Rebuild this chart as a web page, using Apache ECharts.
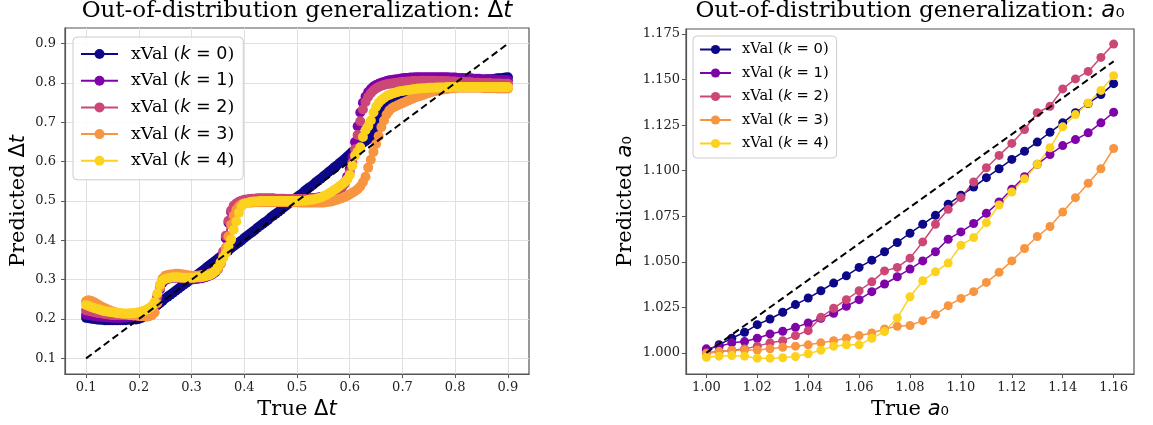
<!DOCTYPE html>
<html><head><meta charset="utf-8">
<script src="https://cdn.jsdelivr.net/npm/echarts@6/dist/echarts.min.js"></script>
<style>html,body{margin:0;padding:0;background:#fff}#c{width:1153px;height:425px}</style>
</head><body><div id="c"></div>
<script>
// ---------- Left panel: Δt ----------
const dtTrue = [
0.100,0.105,0.110,0.115,0.120,0.125,0.130,0.135,0.140,0.145,
0.150,0.155,0.160,0.165,0.170,0.175,0.180,0.185,0.190,0.195,
0.200,0.205,0.210,0.215,0.220,0.225,0.230,0.235,0.240,0.245,
0.250,0.255,0.260,0.265,0.270,0.275,0.280,0.285,0.290,0.295,
0.300,0.305,0.310,0.315,0.320,0.325,0.330,0.335,0.340,0.345,
0.350,0.355,0.360,0.365,0.370,0.375,0.380,0.385,0.390,0.395,
0.400,0.405,0.410,0.415,0.420,0.425,0.430,0.435,0.440,0.445,
0.450,0.455,0.460,0.465,0.470,0.475,0.480,0.485,0.490,0.495,
0.500,0.505,0.510,0.515,0.520,0.525,0.530,0.535,0.540,0.545,
0.550,0.555,0.560,0.565,0.570,0.575,0.580,0.585,0.590,0.595,
0.600,0.605,0.610,0.615,0.620,0.625,0.630,0.635,0.640,0.645,
0.650,0.655,0.660,0.665,0.670,0.675,0.680,0.685,0.690,0.695,
0.700,0.705,0.710,0.715,0.720,0.725,0.730,0.735,0.740,0.745,
0.750,0.755,0.760,0.765,0.770,0.775,0.780,0.785,0.790,0.795,
0.800,0.805,0.810,0.815,0.820,0.825,0.830,0.835,0.840,0.845,
0.850,0.855,0.860,0.865,0.870,0.875,0.880,0.885,0.890,0.895,
0.900];
const dtK0 = [
.203,.202,.201,.200,.199,.198,.198,.197,.197,.197,
.197,.197,.197,.197,.197,.197,.198,.198,.199,.199,
.200,.203,.207,.212,.218,.224,.229,.235,.240,.246,
.252,.257,.262,.267,.272,.277,.282,.287,.292,.297,
.302,.307,.312,.317,.322,.327,.333,.338,.343,.348,
.354,.359,.364,.369,.374,.380,.385,.390,.395,.400,
.406,.411,.416,.421,.426,.432,.437,.442,.447,.452,
.458,.463,.468,.473,.478,.484,.489,.494,.499,.505,
.510,.515,.520,.526,.531,.536,.541,.547,.552,.557,
.563,.568,.574,.579,.585,.590,.596,.601,.607,.613,
.619,.625,.631,.637,.643,.648,.652,.657,.662,.675,
.695,.712,.726,.737,.745,.750,.754,.757,.760,.762,
.764,.766,.768,.770,.772,.774,.776,.778,.779,.781,
.783,.784,.786,.787,.789,.790,.791,.793,.794,.796,
.797,.798,.799,.800,.801,.802,.803,.804,.805,.806,
.807,.808,.809,.810,.810,.811,.812,.812,.813,.814,
.815];
const dtK1 = [
.211,.210,.209,.208,.207,.206,.205,.205,.204,.204,
.203,.203,.203,.203,.204,.204,.205,.206,.207,.208,
.210,.212,.215,.218,.222,.227,.235,.252,.275,.292,
.299,.302,.304,.305,.305,.305,.304,.303,.302,.301,
.301,.301,.302,.303,.304,.306,.308,.311,.314,.319,
.327,.340,.365,.405,.445,.472,.485,.492,.496,.499,
.500,.501,.502,.503,.503,.504,.504,.505,.505,.505,
.505,.505,.505,.505,.505,.505,.505,.505,.505,.505,
.505,.505,.505,.506,.506,.507,.507,.508,.509,.510,
.511,.513,.515,.518,.521,.525,.530,.537,.547,.562,
.582,.612,.650,.690,.725,.750,.766,.777,.785,.791,
.795,.798,.801,.803,.805,.807,.808,.809,.810,.811,
.812,.813,.813,.814,.814,.815,.815,.815,.815,.815,
.815,.815,.815,.815,.815,.815,.815,.815,.814,.814,
.814,.813,.813,.813,.812,.812,.812,.811,.811,.811,
.810,.810,.810,.809,.809,.809,.808,.808,.808,.808,
.807];
const dtK2 = [
.222,.221,.219,.218,.216,.215,.214,.213,.212,.211,
.210,.210,.210,.210,.210,.210,.211,.211,.212,.213,
.215,.217,.220,.223,.227,.232,.240,.258,.280,.296,
.303,.306,.308,.309,.310,.310,.309,.308,.307,.306,
.305,.305,.306,.307,.308,.310,.312,.315,.318,.323,
.332,.345,.372,.412,.450,.476,.488,.494,.498,.501,
.503,.504,.505,.506,.506,.507,.507,.507,.507,.507,
.507,.507,.506,.506,.506,.506,.505,.505,.505,.505,
.505,.505,.505,.505,.505,.506,.506,.507,.507,.508,
.509,.510,.512,.515,.518,.522,.527,.533,.543,.556,
.573,.598,.632,.668,.703,.733,.752,.765,.774,.781,
.786,.790,.793,.795,.797,.798,.799,.800,.801,.802,
.803,.803,.804,.804,.805,.805,.805,.806,.806,.806,
.806,.806,.806,.805,.805,.805,.805,.805,.804,.804,
.804,.803,.803,.803,.802,.802,.802,.801,.801,.801,
.800,.800,.800,.800,.799,.799,.799,.799,.798,.798,
.798];
const dtK3 = [
.245,.248,.246,.243,.239,.235,.231,.228,.225,.222,
.219,.217,.215,.214,.213,.212,.211,.210,.209,.209,
.208,.207,.207,.206,.207,.210,.217,.240,.280,.303,
.310,.312,.313,.314,.315,.315,.314,.313,.312,.311,
.310,.310,.310,.311,.312,.313,.314,.316,.318,.322,
.328,.340,.358,.382,.410,.440,.463,.478,.487,.492,
.494,.495,.496,.496,.497,.497,.497,.497,.497,.497,
.497,.497,.497,.497,.497,.497,.497,.497,.497,.497,
.497,.496,.496,.496,.496,.496,.496,.496,.496,.496,
.496,.497,.498,.499,.501,.503,.505,.507,.510,.513,
.517,.521,.525,.530,.537,.548,.562,.585,.605,.625,
.645,.665,.688,.705,.720,.730,.736,.740,.743,.746,
.749,.752,.755,.758,.761,.764,.766,.768,.770,.773,
.775,.777,.779,.780,.782,.783,.784,.785,.786,.787,
.787,.788,.788,.788,.788,.788,.788,.788,.788,.788,
.788,.787,.787,.787,.787,.787,.786,.786,.786,.786,
.786];
const dtK4 = [
.236,.233,.230,.228,.226,.224,.222,.220,.219,.218,
.217,.216,.215,.215,.214,.214,.214,.215,.215,.216,
.217,.219,.221,.224,.228,.233,.243,.265,.288,.298,
.302,.304,.305,.306,.306,.306,.305,.305,.305,.305,
.305,.305,.306,.306,.307,.308,.310,.312,.316,.322,
.333,.343,.355,.368,.385,.402,.427,.448,.470,.487,
.493,.495,.497,.498,.499,.499,.500,.500,.500,.500,
.500,.500,.500,.500,.500,.500,.500,.500,.500,.500,
.500,.500,.501,.501,.502,.503,.504,.505,.507,.509,
.512,.515,.519,.523,.528,.532,.537,.542,.547,.555,
.566,.590,.615,.625,.637,.663,.680,.690,.705,.725,
.740,.750,.757,.762,.767,.770,.773,.775,.777,.779,
.780,.781,.782,.783,.784,.785,.786,.786,.787,.787,
.788,.788,.788,.789,.789,.789,.789,.790,.790,.790,
.790,.790,.790,.790,.790,.790,.790,.790,.790,.790,
.790,.790,.790,.790,.790,.790,.790,.790,.790,.790,
.790];
const dtIdentity = [0.1, 0.9];
const dtTicks = [0.1,0.2,0.3,0.4,0.5,0.6,0.7,0.8,0.9];

// ---------- Right panel: a0 ----------
const a0True = [
1.000,1.005,1.010,1.015,1.020,1.025,1.030,1.035,1.040,1.045,
1.050,1.055,1.060,1.065,1.070,1.075,1.080,1.085,1.090,1.095,
1.100,1.105,1.110,1.115,1.120,1.125,1.130,1.135,1.140,1.145,
1.150,1.155,1.160];
const a0K0 = [
1.0013,1.0045,1.0080,1.0113,1.0155,1.0186,1.0223,1.0265,1.0301,1.0341,
1.0383,1.0423,1.0469,1.0509,1.0555,1.0606,1.0657,1.0706,1.0755,1.0816,
1.0865,1.0910,1.0962,1.1011,1.1062,1.1107,1.1157,1.1211,1.1263,1.1318,
1.1369,1.1418,1.1478];
const a0K1 = [
1.0022,1.0035,1.0055,1.0062,1.0080,1.0104,1.0119,1.0140,1.0164,1.0190,
1.0217,1.0256,1.0292,1.0336,1.0378,1.0418,1.0460,1.0505,1.0555,1.0624,
1.0664,1.0710,1.0766,1.0828,1.0898,1.0967,1.1035,1.1089,1.1138,1.1171,
1.1208,1.1263,1.1321];
const a0K2 = [
1.0000,1.0007,1.0013,1.0022,1.0037,1.0055,1.0067,1.0095,1.0122,1.0195,
1.0245,1.0292,1.0341,1.0390,1.0450,1.0469,1.0520,1.0609,1.0706,1.0788,
1.0852,1.0938,1.1016,1.1084,1.1150,1.1226,1.1318,1.1354,1.1449,1.1504,
1.1545,1.1622,1.1695];
const a0K3 = [
0.9995,1.0007,1.0013,1.0016,1.0016,1.0022,1.0031,1.0037,1.0044,1.0055,
1.0067,1.0080,1.0095,1.0109,1.0131,1.0146,1.0150,1.0177,1.0210,1.0259,
1.0299,1.0336,1.0387,1.0442,1.0505,1.0573,1.0639,1.0694,1.0773,1.0852,
1.0931,1.1011,1.1122];
const a0K4 = [
0.9976,0.9982,0.9985,0.9982,0.9971,0.9971,0.9973,0.9980,0.9995,1.0015,
1.0037,1.0044,1.0044,1.0080,1.0117,1.0192,1.0308,1.0396,1.0445,1.0493,
1.0591,1.0633,1.0715,1.0812,1.0883,1.0956,1.1035,1.1126,1.1241,1.1308,
1.1372,1.1441,1.1522];
const a0Identity = [1.0, 1.16];
const a0XTicks = [1.00,1.02,1.04,1.06,1.08,1.10,1.12,1.14,1.16];
const a0YTicks = [1.000,1.025,1.050,1.075,1.100,1.125,1.150,1.175];

const kLabels = ['0','1','2','3','4'];
const colors = ['#0d0887','#7e03a8','#cc4778','#f89540','#fdd21f'];

const SERIF = 'DejaVu Serif', SANS = 'DejaVu Sans';
const spine = '#555555';

const dtSeriesY = [dtK0, dtK1, dtK2, dtK3, dtK4];
const a0SeriesY = [a0K0, a0K1, a0K2, a0K3, a0K4];
const leftNames = kLabels.map(k => 'dt xVal (k = ' + k + ')');
const rightNames = kLabels.map(k => 'a0 xVal (k = ' + k + ')');

function legendFmt(name) {
  const k = name.slice(-2, -1);
  return 'xVal ({m|k}{s| = ' + k + '})';
}

function makeAxisLabel(ticks, digits, margin) {
  return {customValues: ticks, formatter: v => v.toFixed(digits),
    fontFamily: SERIF, fontSize: 13, color: '#222', margin: margin};
}

const series = [];
dtSeriesY.forEach((ys, i) => {
  series.push({
    name: leftNames[i], type: 'line', xAxisIndex: 0, yAxisIndex: 0,
    data: dtTrue.map((x, j) => [x, ys[j]]),
    symbol: 'circle', symbolSize: 10, showAllSymbol: true,
    lineStyle: {width: 1.5, color: colors[i]}, itemStyle: {color: colors[i]},
    emphasis: {disabled: true}, animation: false, z: 2
  });
});
series.push({
  type: 'line', xAxisIndex: 0, yAxisIndex: 0,
  data: dtIdentity.map(v => [v, v]), symbol: 'none',
  lineStyle: {color: '#000', width: 2, type: [7, 4]}, z: 5, animation: false, silent: true
});
a0SeriesY.forEach((ys, i) => {
  series.push({
    name: rightNames[i], type: 'line', xAxisIndex: 1, yAxisIndex: 1,
    data: a0True.map((x, j) => [x, ys[j]]),
    symbol: 'circle', symbolSize: 9, showAllSymbol: true,
    lineStyle: {width: 1.5, color: colors[i]}, itemStyle: {color: colors[i]},
    emphasis: {disabled: true}, animation: false, z: 2
  });
});
series.push({
  type: 'line', xAxisIndex: 1, yAxisIndex: 1,
  data: a0Identity.map(v => [v, v]), symbol: 'none',
  lineStyle: {color: '#000', width: 2, type: [7, 4]}, z: 5, animation: false, silent: true
});

const richMath = (fs) => ({
  m: {fontFamily: SANS, fontStyle: 'italic', fontSize: fs, color: '#000'},
  s: {fontFamily: SANS, fontSize: fs, color: '#000'},
  d: {fontFamily: SANS, fontSize: fs, color: '#000'}
});

function legendCfg(names, left, top, fs, lh, gap, iw, ih, pad, tpad) {
  return {
    data: names, orient: 'vertical', left: left, top: top,
    itemWidth: iw, itemHeight: ih, itemGap: gap, padding: pad,
    backgroundColor: 'rgba(255,255,255,0.85)', borderColor: '#cccccc', borderWidth: 1, borderRadius: 4,
    formatter: legendFmt, selectedMode: false,
    textStyle: {fontFamily: SERIF, fontSize: fs, color: '#000', lineHeight: lh, padding: [0, 0, 0, tpad], rich: richMath(fs)}
  };
}

const option = {
  animation: false,
  backgroundColor: '#fff',
  title: [
    {text: 'Out-of-distribution generalization: {d|Δ}{m|t}', left: 297, top: 0, textAlign: 'center', padding: 0,
     textStyle: {fontFamily: SERIF, fontSize: 23, fontWeight: 'normal', color: '#000', rich: richMath(23)}},
    {text: 'Out-of-distribution generalization: {m|a}{s|₀}', left: 910, top: 0, textAlign: 'center', padding: 0,
     textStyle: {fontFamily: SERIF, fontSize: 23, fontWeight: 'normal', color: '#000', rich: richMath(23)}}
  ],
  legend: [
    legendCfg(leftNames, 73, 37, 17.5, 20, 6.7, 37, 12.5, [7, 9, 9, 7], 8),
    legendCfg(rightNames, 693, 36, 14.7, 17, 6.5, 31, 11.5, [5, 8, 6, 6], 6)
  ],
  grid: [
    {left: 65, top: 28, width: 464, height: 347, show: true, borderColor: spine, borderWidth: 1.2, backgroundColor: 'transparent'},
    {left: 686, top: 29, width: 448, height: 345, show: true, borderColor: spine, borderWidth: 1.2, backgroundColor: 'transparent'}
  ],
  xAxis: [
    {type: 'value', gridIndex: 0, min: 0.06, max: 0.94,
     axisLine: {show: true, onZero: false, lineStyle: {color: spine, width: 1.2}},
     axisTick: {show: true, length: 4, customValues: dtTicks, lineStyle: {color: spine}},
     axisLabel: makeAxisLabel(dtTicks, 1, 7),
     splitLine: {show: true, lineStyle: {color: '#e0e0e0', width: 1}},
     name: 'True {d|Δ}{m|t}', nameLocation: 'middle', nameGap: 24,
     nameTextStyle: {fontFamily: SERIF, fontSize: 21, color: '#000', rich: richMath(21)}},
    {type: 'value', gridIndex: 1, min: 0.992, max: 1.168,
     axisLine: {show: true, onZero: false, lineStyle: {color: spine, width: 1.2}},
     axisTick: {show: true, length: 4, customValues: a0XTicks, lineStyle: {color: spine}},
     axisLabel: makeAxisLabel(a0XTicks, 2, 7),
     splitLine: {show: false},
     name: 'True {m|a}{s|₀}', nameLocation: 'middle', nameGap: 24,
     nameTextStyle: {fontFamily: SERIF, fontSize: 21, color: '#000', rich: richMath(21)}}
  ],
  yAxis: [
    {type: 'value', gridIndex: 0, min: 0.06, max: 0.94,
     axisLine: {show: true, onZero: false, lineStyle: {color: spine, width: 1.2}},
     axisTick: {show: true, length: 4, customValues: dtTicks, lineStyle: {color: spine}},
     axisLabel: makeAxisLabel(dtTicks, 1, 9),
     splitLine: {show: true, lineStyle: {color: '#e0e0e0', width: 1}},
     name: 'Predicted {d|Δ}{m|t}', nameLocation: 'middle', nameGap: 36, nameRotate: 90,
     nameTextStyle: {fontFamily: SERIF, fontSize: 21, color: '#000', rich: richMath(21)}},
    {type: 'value', gridIndex: 1, min: 0.9884, max: 1.1778,
     axisLine: {show: true, onZero: false, lineStyle: {color: spine, width: 1.2}},
     axisTick: {show: true, length: 4, customValues: a0YTicks, lineStyle: {color: spine}},
     axisLabel: makeAxisLabel(a0YTicks, 3, 6),
     splitLine: {show: false},
     name: 'Predicted {m|a}{s|₀}', nameLocation: 'middle', nameGap: 50, nameRotate: 90,
     nameTextStyle: {fontFamily: SERIF, fontSize: 21, color: '#000', rich: richMath(21)}}
  ],
  series: series
};

const chart = echarts.init(document.getElementById('c'), null, {renderer: 'canvas'});
chart.setOption(option);
</script>
</body></html>
